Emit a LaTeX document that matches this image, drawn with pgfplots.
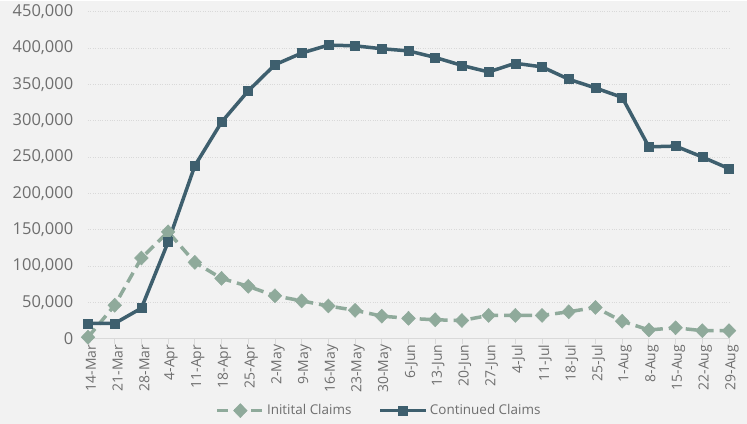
\documentclass[border=0pt]{standalone}
\usepackage{fontspec}
\setmainfont{Open Sans}
\usepackage{pgfplots}
\pgfplotsset{compat=1.18}
\definecolor{bg}{HTML}{F2F2F2}
\definecolor{cont}{HTML}{3E5F6E}
\definecolor{init}{HTML}{8FAA9B}
\definecolor{grid}{HTML}{D9D9D9}
\definecolor{lab}{HTML}{6E6E6E}
\begin{document}
\fontsize{14}{16}\selectfont
\begin{tikzpicture}
\fill[bg] (-88bp,-85bp) rectangle (659bp,338bp);
\begin{axis}[
  scale only axis, width=641bp, height=327bp,
  at={(0,0)}, anchor=south west,
  xmin=0, xmax=24, ymin=0, ymax=450000,
  ytick={0,50000,...,450000},
  scaled y ticks=false,
  /pgf/number format/fixed, /pgf/number format/1000 sep={,}, /pgf/number format/assume math mode=true,
  xtick={0,...,24},
  xticklabels={14-Mar,21-Mar,28-Mar,4-Apr,11-Apr,18-Apr,25-Apr,2-May,9-May,16-May,23-May,30-May,6-Jun,13-Jun,20-Jun,27-Jun,4-Jul,11-Jul,18-Jul,25-Jul,1-Aug,8-Aug,15-Aug,22-Aug,29-Aug},
  xticklabel style={rotate=90, anchor=east, font=\fontsize{14}{16}\selectfont, text=lab, inner sep=1bp, yshift=-3bp},
  yticklabel style={text=lab, font=\fontsize{16.5}{18}\selectfont, xshift=-10bp},
  axis x line*=bottom, axis y line*=left,
  x axis line style={grid, line width=0.8bp, -},
  y axis line style={draw=none},
  major tick length=5bp,
  xtick style={grid, line width=0.8bp},
  xtick align=outside,
  ytick style={draw=none},
  xmajorgrids=false, ymajorgrids=true,
  y grid style={grid, dotted, line width=0.8bp},
  clip=false,
  legend style={at={(0.454,-0.22)}, anchor=center, draw=none, fill=none,
    legend columns=2, font=\fontsize{13.5}{16}\selectfont, text=lab,
    /tikz/every even column/.append style={column sep=25bp}},
  legend image code/.code={\draw[#1, mark repeat=2, mark phase=2] plot coordinates {(0bp,0bp) (23bp,0bp) (46bp,0bp)};},
]
\addplot[init, line width=3.5bp, dash pattern=on 11bp off 6bp, mark=diamond*, mark size=7bp, mark options={solid, xscale=1.3, fill=init, draw=init, line width=0.5bp}] coordinates {
(0,2000) (1,46000) (2,111000) (3,147000) (4,105000) (5,83000) (6,72000) (7,59000) (8,52000) (9,45000) (10,39000) (11,31000) (12,28000) (13,26000) (14,25000) (15,32000) (16,32000) (17,32000) (18,37000) (19,43000) (20,24000) (21,12000) (22,15000) (23,11000) (24,11000)};
\addlegendentry{Initital Claims}
\addplot[cont, line width=3.5bp, mark=square*, mark size=4.5bp, mark options={solid, fill=cont, draw=cont, line width=0.5bp}] coordinates {
(0,21000) (1,21000) (2,42000) (3,133000) (4,238000) (5,298000) (6,341000) (7,377000) (8,393000) (9,404000) (10,403000) (11,399000) (12,396000) (13,387000) (14,376000) (15,367000) (16,379000) (17,374000) (18,357000) (19,345000) (20,332000) (21,264000) (22,265000) (23,250000) (24,234000)};
\addlegendentry{Continued Claims}
\end{axis}
\end{tikzpicture}
\end{document}
